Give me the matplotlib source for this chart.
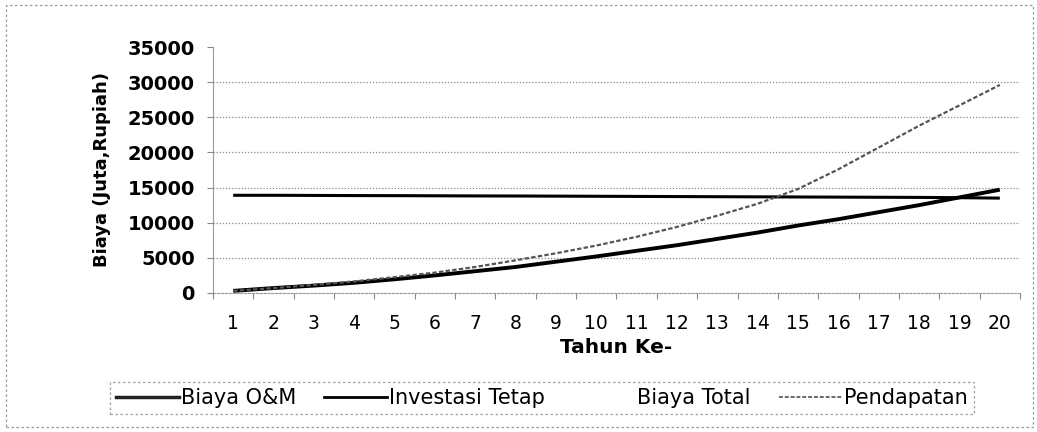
import matplotlib
matplotlib.use('Agg')
import matplotlib.pyplot as plt
from matplotlib.lines import Line2D
from matplotlib.patches import Rectangle

# data
tahun = list(range(1, 21))
biaya_om = [300, 700, 1050, 1450, 1950, 2500, 3100, 3700, 4450, 5200,
            6000, 6800, 7700, 8600, 9600, 10500, 11500, 12500, 13600, 14700]
investasi_tetap = [13900, 13900, 13880, 13860, 13850, 13830, 13810, 13800, 13780, 13760,
                   13740, 13720, 13700, 13680, 13660, 13640, 13620, 13600, 13560, 13500]
biaya_total = [14200, 14600, 14930, 15310, 15800, 16330, 16910, 17500, 18230, 18960,
               19740, 20520, 21400, 22280, 23260, 24140, 25120, 26100, 27160, 28200]
pendapatan = [300, 700, 1150, 1650, 2250, 2900, 3700, 4650, 5650, 6750,
              8000, 9400, 11000, 12700, 14800, 17600, 20700, 23800, 26700, 29600]
y_ticks = [0, 5000, 10000, 15000, 20000, 25000, 30000, 35000]

plt.rcParams['font.family'] = ['DejaVu Sans']

fig = plt.figure(figsize=(10.37, 4.32), dpi=100)
ax = fig.add_axes([0.2054, 0.3218, 0.7782, 0.5694])

ax.plot(tahun, biaya_om, color='black', lw=2.8, solid_capstyle='butt')
ax.plot(tahun, investasi_tetap, color='black', lw=2.2, solid_capstyle='butt')
ax.plot(tahun, biaya_total, color='none', lw=2)
ax.plot(tahun, pendapatan, color='#555555', lw=1.6, linestyle=(0, (2, 1)))

ax.set_xlim(0.5, 20.5)
ax.set_ylim(0, 35000)
ax.set_yticks(y_ticks)
ax.set_yticklabels([str(v) for v in y_ticks], fontsize=14, fontweight='bold')
ax.set_xticks([x + 0.5 for x in range(0, 21)])
ax.set_xticklabels([])
ax.set_xticks(tahun, minor=True)
ax.set_xticklabels([str(t) for t in tahun], minor=True, fontsize=13.5)
ax.tick_params(axis='x', which='minor', length=0, pad=15)
ax.tick_params(axis='x', which='major', length=4, color='#888888', direction='out')
ax.tick_params(axis='y', length=4, color='#888888', pad=9)

for v in y_ticks[1:-1]:
    ax.axhline(v, color='#888888', lw=0.9, linestyle=(0, (1, 1.5)), zorder=0)

for s in ['top', 'right']:
    ax.spines[s].set_visible(False)
ax.spines['left'].set_color('#999999')
ax.spines['bottom'].set_color('#999999')
ax.spines['bottom'].set_linestyle((0, (2, 1.5)))

ax.set_xlabel('Tahun Ke-', fontsize=14.5, fontweight='bold', labelpad=4)
ax.set_ylabel('Biaya (Juta,Rupiah)', fontsize=13, fontweight='bold', labelpad=12)

handles = [
    Line2D([], [], color='#222222', lw=2.5),
    Line2D([], [], color='black', lw=2),
    Line2D([], [], color='none', lw=2),
    Line2D([], [], color='#666666', lw=1.4, linestyle=(0, (2, 1))),
]
labels = ['Biaya O&M', 'Investasi Tetap', 'Biaya Total', 'Pendapatan']
leg = fig.legend(handles, labels, loc='center', bbox_to_anchor=(0.5225, 0.0787),
                 ncol=4, fontsize=15, handlelength=3.0, handletextpad=0.1,
                 columnspacing=1.35, frameon=True, fancybox=False,
                 borderpad=0.3, borderaxespad=0)
leg.get_frame().set_edgecolor('#888888')
leg.get_frame().set_linestyle((0, (2, 2)))
leg.get_frame().set_linewidth(0.9)

# outer dotted chart border
fig.patches.append(Rectangle((0.006, 0.012), 0.99, 0.976, transform=fig.transFigure,
                             fill=False, edgecolor='#999999', lw=0.9,
                             linestyle=(0, (2, 2))))

fig.savefig('out.png', dpi=100)
